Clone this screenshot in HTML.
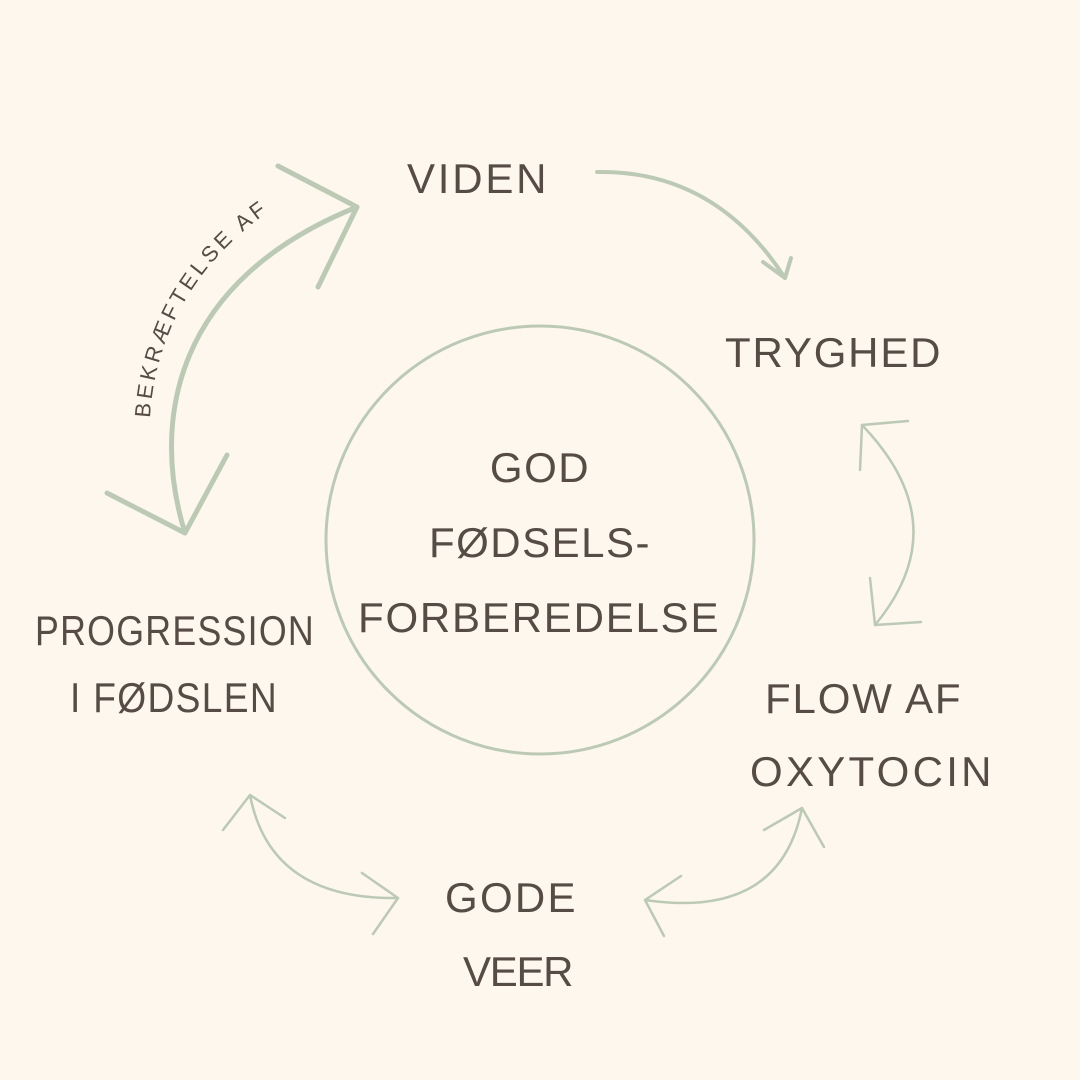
<!DOCTYPE html>
<html><head><meta charset="utf-8"><style>
html,body{margin:0;padding:0;background:#fdf7ee;}
svg{display:block}
text{font-family:"Liberation Sans",sans-serif;fill:#564c45;font-weight:normal;}
</style></head><body>
<svg width="1080" height="1080" viewBox="0 0 1080 1080" xmlns="http://www.w3.org/2000/svg">
<rect width="1080" height="1080" fill="#fdf7ee"/>
<g fill="none" stroke="#bccab5" stroke-linecap="round" stroke-linejoin="round">
<circle cx="540" cy="540" r="214" stroke-width="3"/>
<path d="M597 172 Q715 170 785 278" stroke-width="4"/>
<path d="M763 262 L785 278 L791 258" stroke-width="4"/>
<path d="M185 533 C150 420 175 280 357 207" stroke-width="5"/>
<path d="M278 166 L357 207 L318 287" stroke-width="5"/>
<path d="M107 493 L185 533 L227 455" stroke-width="5"/>
<path d="M862 425 Q958 525 875 625" stroke-width="2.5"/>
<path d="M908 421 L862 425 L860 470" stroke-width="2.5"/>
<path d="M921 622 L875 625 L870 578" stroke-width="2.5"/>
<path d="M250 795 Q270 900 398 898" stroke-width="2.5"/>
<path d="M223 830 L250 795 L285 818" stroke-width="2.5"/>
<path d="M362 873 L398 898 L373 934" stroke-width="2.5"/>
<path d="M645 900 Q780 920 802 808" stroke-width="2.5"/>
<path d="M681 876 L645 900 L664 936" stroke-width="2.5"/>
<path d="M764 830 L802 808 L824 847" stroke-width="2.5"/>
</g>
<path id="tp" d="M150 418 C155 330 200 260 268 212" fill="none"/>
<text font-size="22"><textPath href="#tp" textLength="245">BEKRÆFTELSE AF</textPath></text>
<g font-size="42" letter-spacing="1.5">
<text x="407" y="193" textLength="141">VIDEN</text>
<text x="725" y="367" textLength="217">TRYGHED</text>
<text x="540" y="482" text-anchor="middle">GOD</text>
<text x="540" y="557" text-anchor="middle">FØDSELS-</text>
<text x="358" y="632" textLength="362">FORBEREDELSE</text>
<text x="35" y="645" textLength="280" lengthAdjust="spacingAndGlyphs">PROGRESSION</text>
<text x="70" y="712" textLength="208" lengthAdjust="spacingAndGlyphs">I FØDSLEN</text>
<text x="765" y="713" textLength="197">FLOW AF</text>
<text x="750" y="786" textLength="243">OXYTOCIN</text>
<text x="445" y="912" textLength="132">GODE</text>
<text x="463" y="986" textLength="112">VEER</text>
</g>
</svg>
</body></html>
